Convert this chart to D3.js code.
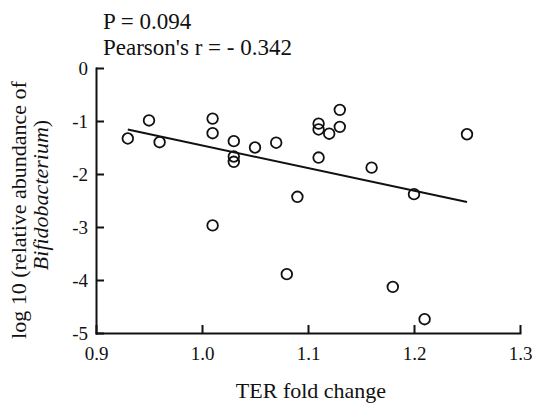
<!DOCTYPE html>
<html>
<head>
<meta charset="utf-8">
<script src="https://cdn.jsdelivr.net/npm/d3@7"></script>
<style>
  html, body { margin: 0; padding: 0; background: #fff; }
  svg { display: block; }
  svg text { font-family: "Liberation Serif", "Times New Roman", serif; }
</style>
</head>
<body>
<svg id="chart" width="534" height="405"></svg>
<script>
// ---- data ----
const terFoldChange = [0.93, 0.95, 0.96, 1.01, 1.01, 1.01, 1.03, 1.03, 1.03, 1.05, 1.07, 1.08,
                       1.09, 1.11, 1.11, 1.11, 1.12, 1.13, 1.13, 1.16, 1.18, 1.20, 1.21, 1.25];
const log10Abundance = [-1.33, -0.99, -1.40, -0.955, -1.23, -2.97, -1.38, -1.67, -1.77, -1.50, -1.41, -3.89,
                        -2.43, -1.05, -1.16, -1.69, -1.24, -0.79, -1.11, -1.88, -4.13, -2.38, -4.74, -1.25];
const fitX = [0.93, 1.25];
const fitY = [-1.16, -2.53];
const xTicks = [0.9, 1.0, 1.1, 1.2, 1.3];
const yTicks = [0, -1, -2, -3, -4, -5];
const statLines = ["P = 0.094", "Pearson's r = - 0.342"];

const FONT = "Liberation Serif, Times New Roman, serif";
const svg = d3.select("#chart");
const x = d3.scaleLinear().domain([0.9, 1.3]).range([96, 520]);
const y = d3.scaleLinear().domain([-5, 0]).range([333, 68]);
const ink = "#111";

// axes
const xAxis = d3.axisBottom(x).tickValues(xTicks).tickFormat(d3.format(".1f"))
  .tickSizeInner(-8).tickSizeOuter(0).tickPadding(14);
const yAxis = d3.axisLeft(y).tickValues(yTicks).tickFormat(d => d === 0 ? "0" : "-" + Math.abs(d))
  .tickSizeInner(-8).tickSizeOuter(0).tickPadding(8);

const gx = svg.append("g").attr("transform", `translate(0,${y(-5)})`).call(xAxis);
const gy = svg.append("g").attr("transform", `translate(${x(0.9)},0)`).call(yAxis);
[gx, gy].forEach(g => {
  g.attr("font-family", FONT).attr("font-size", 19);
  g.select(".domain").attr("stroke", ink).attr("stroke-width", 2).attr("stroke-linecap", "square");
  g.selectAll(".tick line").attr("stroke", ink).attr("stroke-width", 2);
  g.selectAll(".tick text").attr("fill", ink);
});

// regression line
svg.append("line")
  .attr("x1", x(fitX[0])).attr("y1", y(fitY[0]))
  .attr("x2", x(fitX[1])).attr("y2", y(fitY[1]))
  .attr("stroke", ink).attr("stroke-width", 2);

// points
svg.append("g").selectAll("circle")
  .data(terFoldChange.map((v, i) => [v, log10Abundance[i]]))
  .join("circle")
  .attr("cx", d => x(d[0])).attr("cy", d => y(d[1])).attr("r", 5.3)
  .attr("fill", "none").attr("stroke", ink).attr("stroke-width", 1.8);

// stats text
svg.append("g").attr("font-family", FONT).attr("font-size", 23)
  .selectAll("text").data(statLines).join("text")
  .attr("x", 103).attr("y", (d, i) => 29 + i * 26)
  .attr("fill", ink).text(d => d);

// x title
svg.append("text").attr("x", 311).attr("y", 398).attr("text-anchor", "middle")
  .attr("font-family", FONT).attr("font-size", 22).attr("fill", ink).text("TER fold change");

// y title (two lines)
svg.append("text").attr("transform", "translate(26,210) rotate(-90)")
  .attr("text-anchor", "middle").attr("font-family", FONT).attr("font-size", 22).attr("fill", ink)
  .text("log 10 (relative abundance of");
const t2 = svg.append("text").attr("transform", "translate(48,195) rotate(-90)")
  .attr("text-anchor", "middle").attr("font-family", FONT).attr("font-size", 22).attr("fill", ink);
t2.append("tspan").attr("font-style", "italic").text("Bifidobacterium");
t2.append("tspan").text(")");
</script>
</body>
</html>
